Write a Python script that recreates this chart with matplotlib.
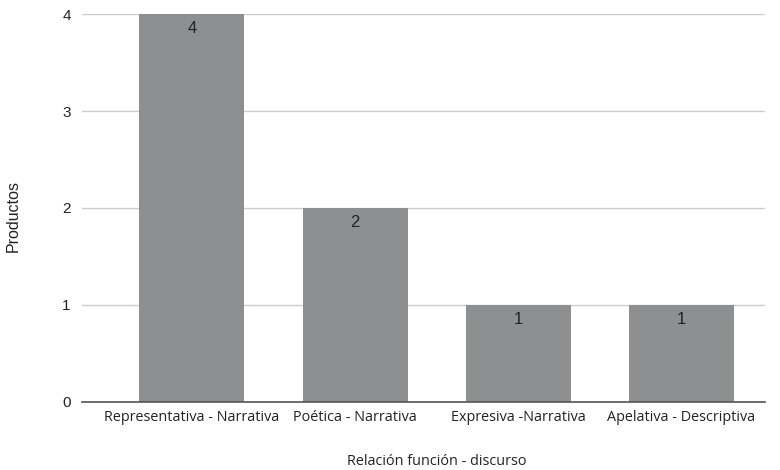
import matplotlib.pyplot as plt

plt.rcParams['font.family'] = ['Open Sans', 'DejaVu Sans']
arial = ['Liberation Sans', 'DejaVu Sans']

categories = ["Representativa - Narrativa", "Poética - Narrativa",
              "Expresiva -Narrativa", "Apelativa - Descriptiva"]
productos = [4, 2, 1, 1]

fig = plt.figure(figsize=(7.8, 4.7), dpi=100)
ax = fig.add_axes([0.105, 0.145, 0.876, 0.825])

x = range(len(categories))
bars = ax.bar(x, productos, width=0.644, color="#8e8f91", zorder=2)

for b, v in zip(bars, productos):
    ax.annotate(str(v), (b.get_x() + b.get_width() / 2, v),
                xytext=(0, -5), textcoords="offset points",
                ha="center", va="top", fontsize=12, color="#222222",
                family=arial, zorder=3)

ax.set_xlim(-0.675, 3.515)
ax.set_ylim(0, 4)
ax.set_yticks([0, 1, 2, 3, 4])
ax.set_xticks(list(x))
ax.set_xticklabels(categories, fontsize=10.4, color="#222222")
for t in ax.get_yticklabels():
    t.set_family(arial)
ax.tick_params(axis="y", labelsize=11, labelcolor="#222222", length=0, pad=8)
ax.tick_params(axis="x", length=0, pad=6)

ax.grid(axis="y", color="#cccccc", linewidth=1, zorder=0)
for s in ["top", "right", "left"]:
    ax.spines[s].set_visible(False)
ax.spines["bottom"].set_color("#555555")
ax.spines["bottom"].set_linewidth(1.2)
ax.spines["bottom"].set_zorder(4)

ax.set_ylabel("Productos", fontsize=11.5, color="#222222", family=arial)
ax.yaxis.set_label_coords(-0.09, 0.48)
ax.set_xlabel("Relación función - discurso", fontsize=10.4, color="#222222")
ax.xaxis.set_label_coords(0.52, -0.135)

fig.savefig("out.png", dpi=100)
